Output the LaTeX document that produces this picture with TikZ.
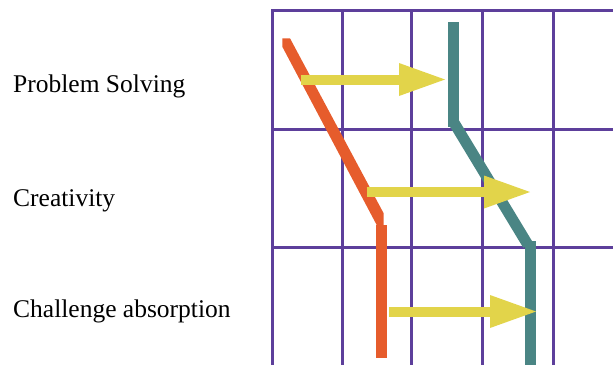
\documentclass[tikz,border=0pt]{standalone}
\usepackage{fontspec}
\setmainfont{Liberation Serif}
\usetikzlibrary{arrows.meta}

\definecolor{gridpurple}{RGB}{93,63,155}
\definecolor{trackorange}{RGB}{230,92,44}
\definecolor{trackteal}{RGB}{74,133,132}
\definecolor{shiftyellow}{RGB}{226,212,74}

\begin{document}
\begin{tikzpicture}[x=1pt, y=-1pt,
        grid/.style={gridpurple, line width=3pt},
        track/.style={line width=11pt},
        shiftarrow/.style={draw=shiftyellow, line width=10pt,
            -{Triangle[length=46pt, width=33pt, line width=0pt]}},
        skill/.style={anchor=base west, inner sep=0pt,
            font=\fontsize{25.5}{30}\selectfont}]
    \useasboundingbox (0,0) rectangle (613,365);

    % grid
    \foreach \x in {272.7, 342.5, 411.7, 482.7, 553.3}
        \draw[grid] (\x, 10.3) -- (\x, 365);
    \foreach \y in {10.3, 129.5, 247.5}
        \draw[grid] (271.2, \y) -- (613, \y);

    % row labels
    \node[skill] (ps) at (13, 92.3) {Problem Solving};
    \node[skill] (cr) at (13, 206) {Creativity};
    \node[skill] (ca) at (13, 317.5) {Challenge absorption};

    % orange track
    \fill[trackorange] (282.3, 38.3) -- (290, 38.3) -- (383.5, 213) -- (383.5, 225)
        -- (376.7, 225) -- (282.3, 46.7) -- cycle;
    \draw[track, trackorange] (381.2, 225) -- (381.2, 358);

    % teal track
    \draw[track, trackteal] (453.3, 22) -- (453.3, 127);
    \draw[track, trackteal] (454.5, 123.5) -- (528, 245);
    \draw[track, trackteal] (530.3, 241) -- (530.3, 365);

    % yellow shifts
    \coordinate (ps from) at (300.7, 79.5);
    \coordinate (ps to) at (445, 79.5);
    \coordinate (cr from) at (366.7, 192);
    \coordinate (cr to) at (530, 192);
    \coordinate (ca from) at (389, 311.5);
    \coordinate (ca to) at (536, 311.5);

    \draw[shiftarrow] (ps from) -- (ps to);
    \draw[shiftarrow] (cr from) -- (cr to);
    \draw[shiftarrow] (ca from) -- (ca to);
\end{tikzpicture}
\end{document}
